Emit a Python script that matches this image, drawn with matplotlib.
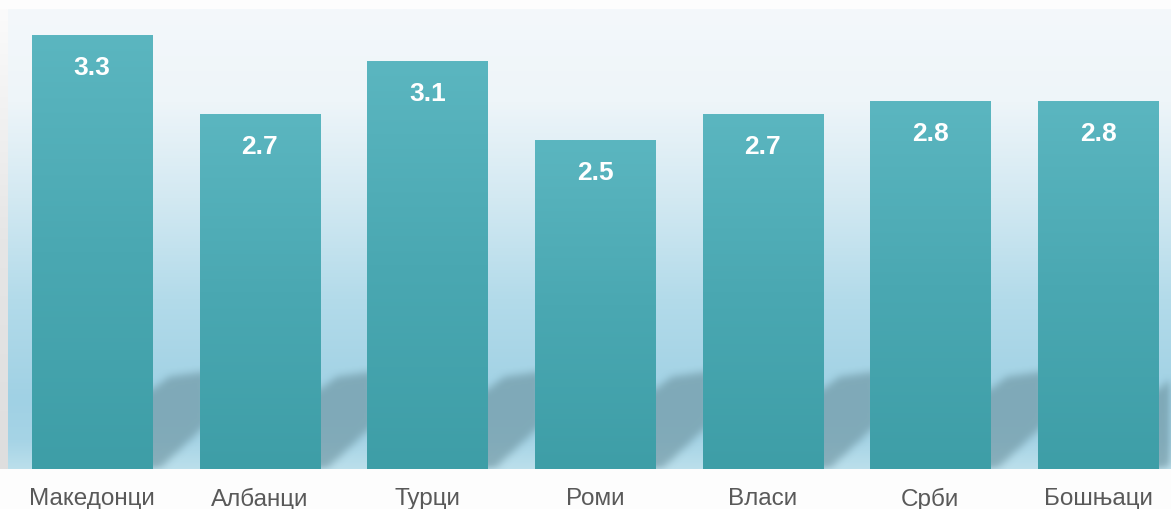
import numpy as np
import matplotlib
matplotlib.use("Agg")
import matplotlib.pyplot as plt
from matplotlib.colors import LinearSegmentedColormap
from matplotlib.path import Path

# данные
groups = ["Македонци", "Албанци", "Турци", "Роми", "Власи", "Срби", "Бошњаци"]
values = [3.3, 2.7, 3.1, 2.5, 2.7, 2.8, 2.8]

W, H = 1171, 510
fig = plt.figure(figsize=(W / 100, H / 100), dpi=100)
fig.patch.set_facecolor("#fdfdfd")

left_px, top_px, base_px = 8, 10, 470
ax = fig.add_axes([left_px / W, (H - base_px) / H, (W - left_px) / W, (base_px - top_px) / H])

x0, x1 = -0.5, 6.435
y0, y1 = 0, 3.5
ax.set_xlim(x0, x1)
ax.set_ylim(y0, y1)

# фон: градиент сверху вниз
bg_cmap = LinearSegmentedColormap.from_list("bg", [
    (0.0, "#bbdfeb"), (0.06, "#a6d4e6"), (0.15, "#a0d1e4"),
    (0.37, "#b3dbea"), (0.59, "#d3e9f2"), (0.8, "#eef5f9"), (1.0, "#f4f8fb")])
grad = np.linspace(0, 1, 256).reshape(-1, 1)
ax.imshow(grad, cmap=bg_cmap, origin="lower", extent=[x0, x1, y0, y1],
          aspect="auto", zorder=0)

bw = 0.716
xs = np.arange(len(groups))

# тени за столбцами (размытые)
nx, ny = int(W - left_px), int(base_px - top_px)
gx = np.linspace(x0, x1, nx)
gy = np.linspace(y0, y1, ny)
GX, GY = np.meshgrid(gx, gy)
pts = np.column_stack([GX.ravel(), GY.ravel()])
mask = np.zeros(GX.shape)
for x, v in zip(xs, values):
    xr = x + bw / 2
    poly = Path([(x, -0.05), (xr, -0.05), (xr + 0.32, 0.33), (xr + 0.32, 0.74),
                 (xr + 0.1, 0.7), (xr, 0.6), (x, 0.6)])
    mask = np.maximum(mask, poly.contains_points(pts).reshape(GX.shape).astype(float))


def box_blur(a, r, axis):
    k = np.ones(2 * r + 1) / (2 * r + 1)
    return np.apply_along_axis(lambda m: np.convolve(m, k, mode="same"), axis, a)


for _ in range(2):
    mask = box_blur(mask, 4, 0)
    mask = box_blur(mask, 4, 1)
shadow = np.zeros(GX.shape + (4,))
shadow[..., 0] = 0x6a / 255
shadow[..., 1] = 0x8f / 255
shadow[..., 2] = 0x9c / 255
shadow[..., 3] = mask * 0.6
ax.imshow(shadow, origin="lower", extent=[x0, x1, y0, y1], aspect="auto", zorder=1)

# столбцы с градиентом
bar_cmap = LinearSegmentedColormap.from_list("bar", ["#3e9ea7", "#4aa8b2", "#5bb6c0"])
for x, v in zip(xs, values):
    ax.imshow(grad, cmap=bar_cmap, origin="lower",
              extent=[x - bw / 2, x + bw / 2, 0, v], aspect="auto", zorder=2)
    ax.text(x, v - 0.24, f"{v:.1f}", ha="center", va="center", color="white",
            fontsize=19, fontweight="bold", family="Liberation Sans", zorder=3)

ax.set_xlim(x0, x1)
ax.set_ylim(y0, y1)
ax.set_xticks(xs)
ax.set_xticklabels(groups, fontsize=17.5, color="#595959", family="Liberation Sans")
ax.tick_params(axis="x", length=0, pad=13)
ax.set_yticks([])
for s in ax.spines.values():
    s.set_visible(False)

# серая полоса слева
sax = fig.add_axes([0, (H - base_px) / H, left_px / W, (base_px - top_px) / H])
gray = LinearSegmentedColormap.from_list("g", ["#dedede", "#e6e6e6", "#fbfbfb"])
sax.imshow(grad, cmap=gray, origin="lower", extent=[0, 1, 0, 1], aspect="auto")
sax.axis("off")

fig.savefig("out.png", dpi=100)
